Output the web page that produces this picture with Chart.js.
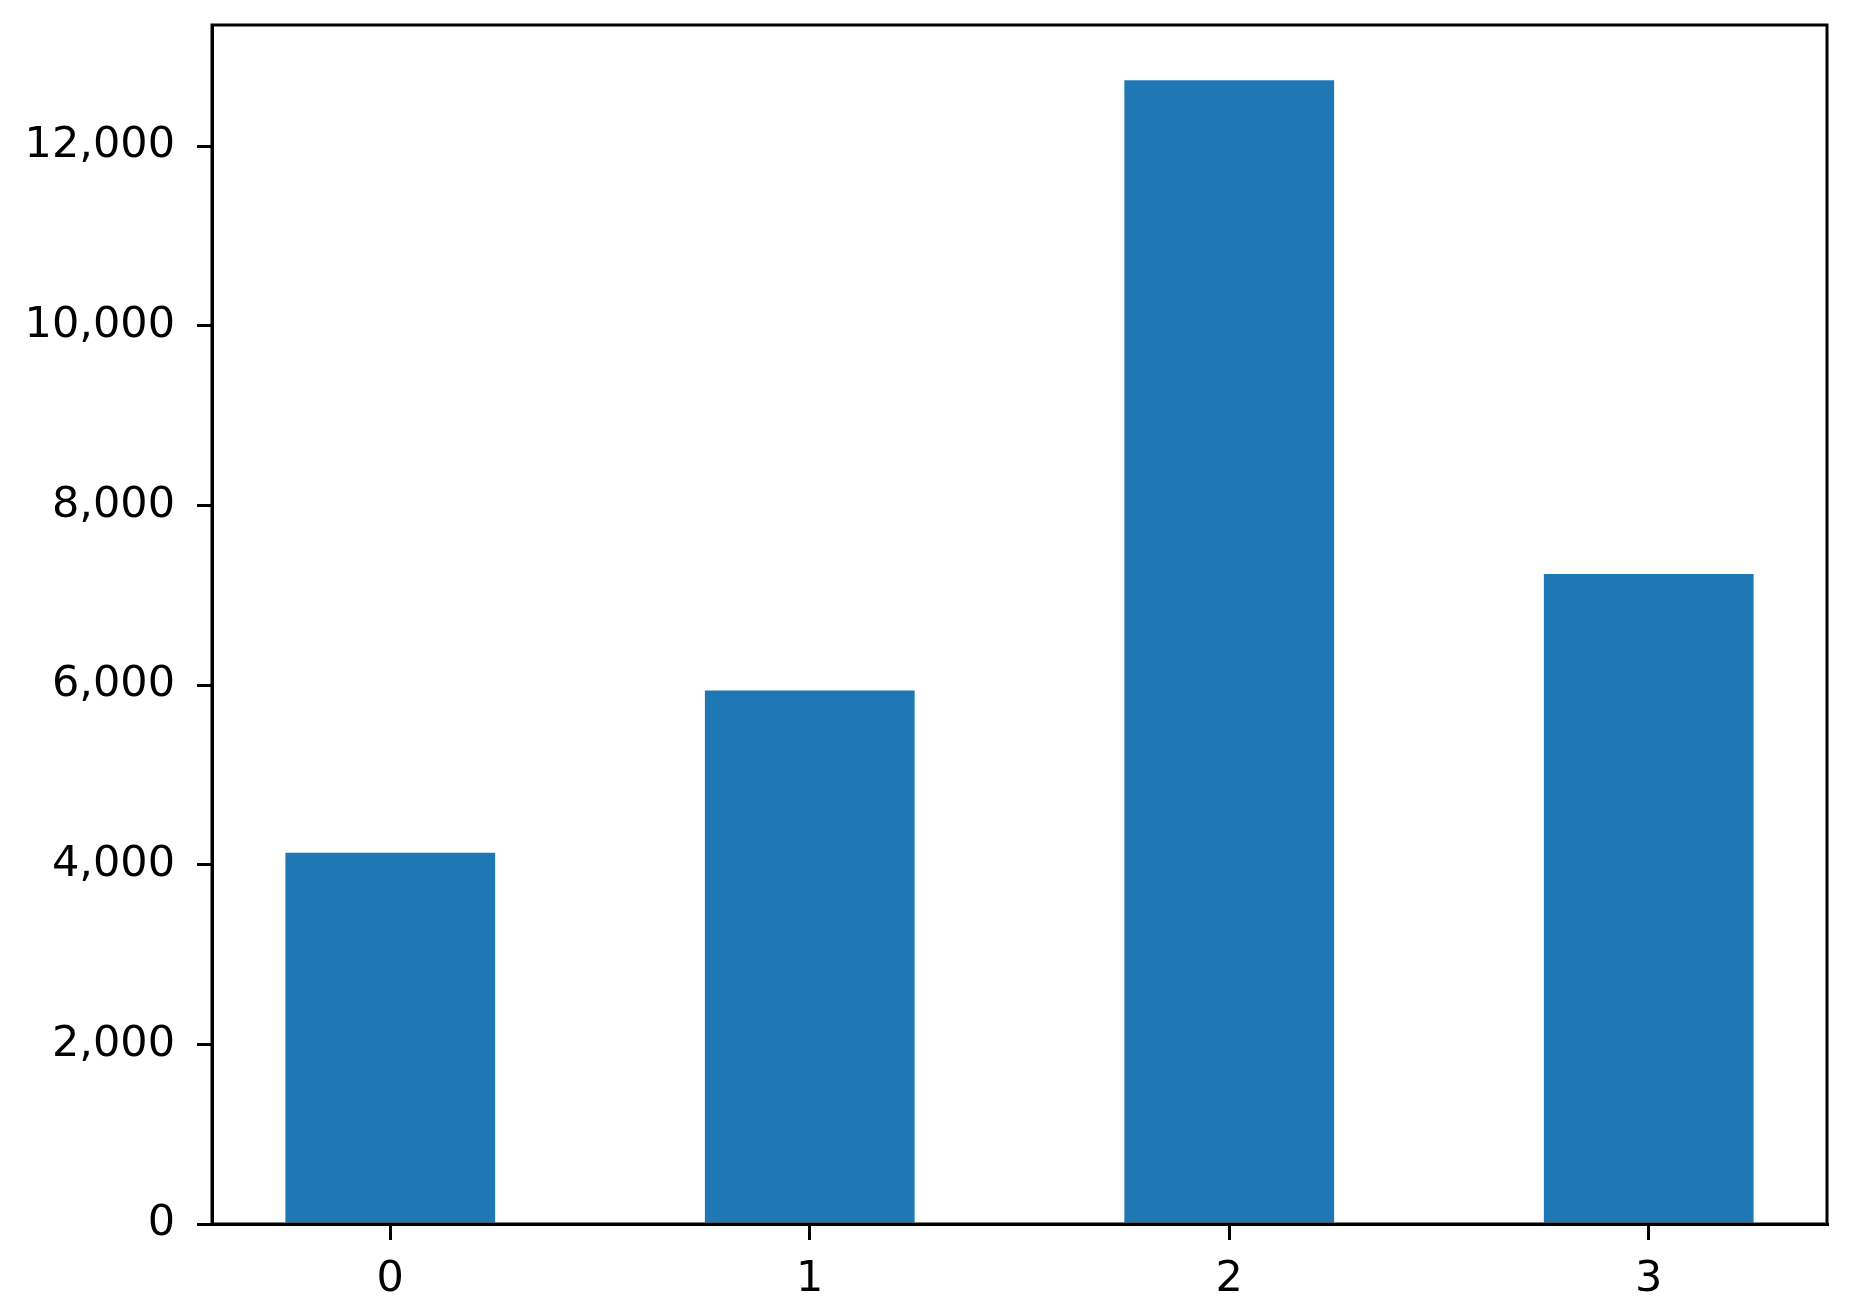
<!DOCTYPE html>
<html>
<head>
<meta charset="utf-8">
<script src="https://cdn.jsdelivr.net/npm/chart.js@4/dist/chart.umd.min.js"></script>
<style>
  html, body { margin: 0; padding: 0; background: #fff; }
  canvas { display: block; }
</style>
</head>
<body>
<canvas id="c" width="1850" height="1312"></canvas>
<script>
const categories = [0, 1, 2, 3];
const values = [4134, 5939, 12734, 7237];
const yTickValues = [0, 2000, 4000, 6000, 8000, 10000, 12000];
const xTickValues = [0, 1, 2, 3];

const frame = {
  id: 'frame',
  afterDraw(chart) {
    const a = chart.chartArea, ctx = chart.ctx;
    ctx.save();
    ctx.strokeStyle = '#000';
    ctx.lineWidth = 3;
    ctx.strokeRect(a.left, a.top, a.right - a.left, a.bottom - a.top);
    ctx.restore();
  }
};

const font = { family: 'DejaVu Sans', size: 43, lineHeight: 1 };

new Chart(document.getElementById('c'), {
  type: 'bar',
  data: {
    datasets: [{
      data: categories.map((c, i) => ({ x: c, y: values[i] })),
      backgroundColor: '#1f77b4',
      borderWidth: 0,
      categoryPercentage: 0.5,
      barPercentage: 1.0
    }]
  },
  options: {
    responsive: false,
    animation: false,
    events: [],
    layout: { padding: { left: 0, top: 25, right: 23, bottom: 0 } },
    plugins: { legend: { display: false }, tooltip: { enabled: false } },
    scales: {
      x: {
        type: 'linear',
        min: -0.425,
        max: 3.425,
        offset: false,
        grid: { offset: false, drawOnChartArea: false, drawTicks: true, tickLength: 16, color: '#000', lineWidth: 3 },
        border: { display: true, color: '#000', width: 3 },
        ticks: { color: '#000', font: font, padding: 18, maxRotation: 0, autoSkip: false,
                  callback: v => String(v) },
        afterBuildTicks: s => { s.ticks = xTickValues.map(v => ({ value: v })); },
        afterFit: s => { s.height = 1312 - 1224; s.paddingLeft = 0; s.paddingRight = 0; s.paddingTop = 0; s.paddingBottom = 0; }
      },
      y: {
        type: 'linear',
        min: 0,
        max: 13350,
        grid: { drawOnChartArea: false, drawTicks: true, tickLength: 15, color: '#000', lineWidth: 3 },
        border: { display: true, color: '#000', width: 3 },
        ticks: { color: '#000', font: font, padding: 22, autoSkip: false,
                  callback: v => v.toLocaleString('en-US') },
        afterBuildTicks: s => { s.ticks = yTickValues.map(v => ({ value: v })); },
        afterFit: s => { s.width = 212; s.paddingTop = 0; s.paddingBottom = 0; s.paddingLeft = 0; s.paddingRight = 0; }
      }
    }
  },
  plugins: [frame]
});
</script>
</body>
</html>
